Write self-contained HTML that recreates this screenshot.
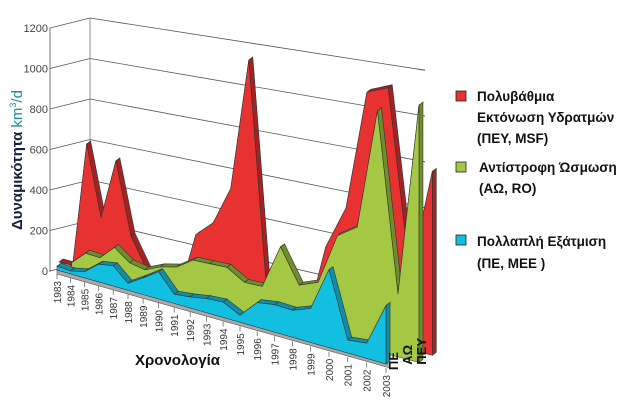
<!DOCTYPE html>
<html><head><meta charset="utf-8"><style>
html,body{margin:0;padding:0;background:#fff;width:628px;height:404px;overflow:hidden}
svg{display:block;font-family:"Liberation Sans",sans-serif}
</style></head><body>
<svg id="c" width="628" height="404" viewBox="0 0 628 404"></svg>
<script>
const categories=["1983","1984","1985","1986","1987","1988","1989","1990","1991","1992","1993","1994","1995","1996","1997","1998","1999","2000","2001","2002","2003",""];
const valuesPE=[20,15,30,85,95,32,75,120,40,47,58,62,28,95,104,100,123,277,45,52,195];
const valuesAO=[null,35,100,95,160,105,90,120,135,180,180,180,135,135,300,170,195,375,415,820,210,840];
const valuesPEY=[0,0,615,265,545,205,70,0,0,265,325,475,990,60,0,0,300,450,860,875,250,600];
const yTicks=["0","200","400","600","800","1000","1200"];
const seriesNames=["PE","AO","PEY"];
const axisLabels=["ΠΕ","ΑΩ","ΠΕΥ"];

const svg=document.getElementById('c');
const NS="http://www.w3.org/2000/svg";
function mk(tag,attrs,parent){const e=document.createElementNS(NS,tag);for(const k in attrs)e.setAttribute(k,attrs[k]);(parent||svg).appendChild(e);return e;}
// axis functions
function xf(i){return 57+13.45*i+0.15*i*i;}
function tf(i){return (xf(i)-57)/329;}
function kf(i){return 0.195+0.105*tf(i);}
function baseY(i,s){const t=tf(i);return 270+94*t-s*(4+3*t);}
function px(i,s){const t=tf(i);return xf(i)+s*(1+11*t*t);}
function py(i,s,v){return baseY(i,s)-v*kf(i);}

// gridlines / walls
const g=mk('g',{});


yTicks.forEach((lab,j)=>{
  const v=+lab;
  const y0=271-v*0.2025, y1=y0-10, y2=345-v*0.229;
  const l=mk('polyline',{points:`50,${y0} 90,${y1} 425,${y2}`,fill:'none',stroke:'#555','stroke-width':0.8},g);
  
  
  const tk=mk('line',{x1:418,y1:y2-1,x2:425,y2:y2,stroke:'#555','stroke-width':0.8},g);
  const tx=mk('text',{x:48,y:y0+4,'text-anchor':'end','font-size':11,fill:'#444'},g);
  tx.textContent=lab;
  
  
});
mk('line',{x1:50,y1:28,x2:50,y2:272,stroke:'#555','stroke-width':0.8});
mk('line',{x1:90,y1:18,x2:90,y2:262,stroke:'#777','stroke-width':0.8});
// floor strip
const fl=mk('polygon',{points:`${xf(0)},${baseY(0,0)} ${xf(20)+4},${baseY(20,0)} ${xf(20)+4},${baseY(20,0)+4} ${xf(0)},${baseY(0,0)+4}`,fill:'#aaa',stroke:'#555','stroke-width':0.6});



const colors=[{f:'#12bfe0',t:'#0e8fa8'},{f:'#a4c843',t:'#6f8d2a'},{f:'#e83232',t:'#a52222'}];
const seriesData=[valuesPE,valuesAO,valuesPEY];
for(let s=2;s>=0;s--){
  const vals=seriesData[s];
  const pts=[];
  vals.forEach((v,i)=>{if(v!==null&&v!==undefined)pts.push([i,v]);});
  const grp=mk('g',{});
  
  
  // top strip
  const dx=4,dy=-3;
  for(let k=0;k<pts.length-1;k++){
    const [i1,v1]=pts[k],[i2,v2]=pts[k+1];
    const a=[px(i1,s),py(i1,s,v1)],b=[px(i2,s),py(i2,s,v2)];
    const st=mk('polygon',{points:`${a[0]},${a[1]} ${b[0]},${b[1]} ${b[0]+dx},${b[1]+dy} ${a[0]+dx},${a[1]+dy}`,fill:colors[s].t,stroke:'#333','stroke-width':0.6},grp);
    
    
  }
  // end wall
  const [il,vl]=pts[pts.length-1];
  const ex=px(il,s),ey=py(il,s,vl),eb=baseY(il,s);
  const w=mk('polygon',{points:`${ex},${ey} ${ex+dx},${ey+dy} ${ex+dx},${eb+dy} ${ex},${eb}`,fill:colors[s].t,stroke:'#333','stroke-width':0.6},grp);
  
  
  // front face
  let p=`${px(pts[0][0],s)},${baseY(pts[0][0],s)} `;
  pts.forEach(([i,v])=>{p+=`${px(i,s)},${py(i,s,v)} `;});
  p+=`${ex},${eb}`;
  const f=mk('polygon',{points:p,fill:colors[s].f,stroke:'#333','stroke-width':0.6},grp);
  
  
}
// x labels
categories.forEach((c,i)=>{
  if(!c)return;
  const x=xf(i)+4,y=baseY(i,0)+11;
  mk('line',{x1:xf(i),y1:baseY(i,0)+4,x2:xf(i),y2:baseY(i,0)+9,stroke:'#555','stroke-width':0.7});
  const t=mk('text',{x:x,y:y,transform:`rotate(-90 ${x} ${y})`,'text-anchor':'end','font-size':10,fill:'#333'});
  t.textContent=c;
  
  
});
axisLabels.forEach((c,s)=>{
  const x=398+s*14,y=352-s*7;
  const t=mk('text',{x:x,y:y,transform:`rotate(-90 ${x} ${y})`,'text-anchor':'end','font-size':13,'font-weight':'bold',fill:'#111'});
  t.textContent=c;
  
  
});
</script>
<svg width="0" height="0"></svg>
<div style="position:absolute;left:0;top:0;width:628px;height:404px;pointer-events:none">
<svg width="628" height="404" style="position:absolute;left:0;top:0">
  <text transform="translate(22,230) rotate(-90)" font-family="Liberation Sans" font-size="15"><tspan font-weight="bold" fill="#14213d">Δυναμικότητα</tspan><tspan fill="#1a8aa0" dx="4">km</tspan><tspan fill="#1a8aa0" font-size="9" dy="-6">3</tspan><tspan fill="#1a8aa0" dy="6">/d</tspan></text>
  <text x="135" y="365" font-family="Liberation Sans" font-size="15" font-weight="bold" fill="#111">Χρονολογία</text>
  <g font-family="Liberation Sans" font-size="13.5" font-weight="bold" fill="#111">
    <g>
      <rect x="456" y="91" width="10" height="10" fill="#e83232" stroke="#222" stroke-width="0.8"/>
      <text x="477" y="101">Πολυβάθμια</text><text x="477" y="122">Εκτόνωση Υδρατμών</text><text x="477" y="143">(ΠΕΥ, MSF)</text>
    </g>
    <g>
      <rect x="456" y="162" width="10" height="10" fill="#a4c843" stroke="#222" stroke-width="0.8"/>
      <text x="479" y="172">Αντίστροφη Ώσμωση</text><text x="479" y="193">(ΑΩ, RO)</text>
    </g>
    <g>
      <rect x="456" y="235" width="10" height="10" fill="#12bfe0" stroke="#222" stroke-width="0.8"/>
      <text x="477" y="246">Πολλαπλή Εξάτμιση</text><text x="477" y="268">(ΠΕ, ΜΕΕ )</text>
    </g>
  </g>
</svg>
</div>
</body></html>
